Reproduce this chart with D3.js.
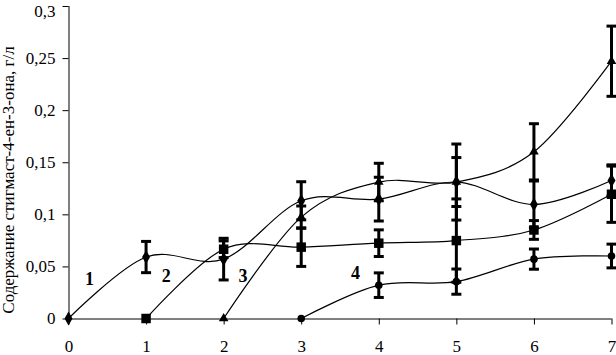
<!DOCTYPE html>
<html><head><meta charset="utf-8">
<script src="https://cdn.jsdelivr.net/npm/d3@7"></script>
<style>body{margin:0;background:#fff}svg{display:block}</style>
</head><body>
<script>
const xTicks = [0,1,2,3,4,5,6,7];
const yTicks = [0,0.05,0.1,0.15,0.2,0.25,0.3];
const yTickLabels = ["0","0,05","0,1","0,15","0,2","0,25","0,3"];
const yTitle = "Содержание стигмаст-4-ен-3-она, г/л";

const s1x = [0,1,2,3,4,5,6,7];
const s1y = [0,0.059,0.057,0.113,0.1146,0.131,0.1095,0.1325];
const s1e = [0,0.015,0.02,0.0183,0.021,0.0235,0.0225,0.015];

const s2x = [1,2,3,4,5,6,7];
const s2y = [0,0.0665,0.0685,0.0723,0.0748,0.085,0.1193];
const s2e = [0,0.008,0.0185,0.0128,0.040,0.009,0.027];

const s3x = [2,3,4,5,6,7];
const s3y = [0,0.0973,0.131,0.131,0.16,0.247];
const s3e = [0,0.0107,0.018,0.0365,0.027,0.0337];

const s4x = [3,4,5,6,7];
const s4y = [0,0.032,0.0354,0.057,0.060];
const s4e = [0,0.0118,0.0121,0.0097,0.0114];

const seriesLabels = ["1","2","3","4"];
const labelPos = [[0.27,0.036],[1.26,0.039],[2.25,0.039],[3.7,0.042]];

const W=616,H=355;
const x = d3.scaleLinear().domain([0,7]).range([68.5,611.5]);
const y = d3.scaleLinear().domain([0,0.3]).range([318.5,6]);

const svg = d3.select("body").append("svg").attr("width",W).attr("height",H);
const font = "Liberation Serif";

const yAxis = svg.append("g").attr("transform",`translate(${x(0)},0)`)
  .call(d3.axisLeft(y).tickValues(yTicks).tickSize(6).tickPadding(7)
    .tickFormat((d,i)=>yTickLabels[i]));
const xAxis = svg.append("g").attr("transform",`translate(0,${y(0)})`)
  .call(d3.axisBottom(x).tickValues(xTicks).tickSize(6).tickPadding(15).tickFormat(d=>String(d)));
[yAxis,xAxis].forEach(a=>{
  a.select(".domain").attr("stroke","#000").attr("stroke-width",1);
  a.selectAll(".tick line").attr("stroke","#000").attr("stroke-width",1);
  a.selectAll("text").attr("font-family",font).attr("font-size",17).attr("fill","#000");
});
yAxis.selectAll(".tick text").filter(d=>d===0.3).attr("dy","0.6em");
xAxis.select(".domain").attr("d",`M${x(0)},0.5H${x(7)}`);
yAxis.select(".domain").attr("d",`M0.5,${y(0.3)}V${y(0)}`);

svg.append("text").attr("transform",`translate(10,180) rotate(-90)`)
  .attr("text-anchor","middle").attr("dominant-baseline","middle")
  .attr("font-family",font).attr("font-size",17).text(yTitle);

const series = [
  {xs:s1x,ys:s1y,es:s1e,sym:d3.symbolDiamond,size:55},
  {xs:s2x,ys:s2y,es:s2e,sym:d3.symbolSquare,size:90},
  {xs:s3x,ys:s3y,es:s3e,sym:d3.symbolTriangle,size:40},
  {xs:s4x,ys:s4y,es:s4e,sym:d3.symbolCircle,size:45},
];
const line = d3.line().x(d=>x(d[0])).y(d=>y(d[1])).curve(d3.curveCatmullRom.alpha(0));

series.forEach(s=>{
  const pts = s.xs.map((v,i)=>[v,s.ys[i],s.es[i]]);
  svg.append("path").attr("d",line(pts)).attr("fill","none").attr("stroke","#000").attr("stroke-width",1.2);
});
series.forEach(s=>{
  const pts = s.xs.map((v,i)=>[v,s.ys[i],s.es[i]]);
  const g = svg.append("g");
  pts.filter(p=>p[2]>0).forEach(p=>{
    const cx = x(p[0]), t=y(p[1]+p[2]), b=y(p[1]-p[2]);
    g.append("line").attr("x1",cx).attr("x2",cx).attr("y1",t).attr("y2",b).attr("stroke","#000").attr("stroke-width",3);
    [t,b].forEach(yy=>g.append("line").attr("x1",cx-5).attr("x2",cx+5).attr("y1",yy).attr("y2",yy).attr("stroke","#000").attr("stroke-width",3));
  });
  g.selectAll("path.m").data(pts).join("path").attr("class","m")
    .attr("transform",p=>`translate(${x(p[0])},${y(p[1])})`)
    .attr("d",d3.symbol().type(s.sym).size(s.size)).attr("fill","#000");
});

svg.selectAll("text.lab").data(seriesLabels).join("text").attr("class","lab")
  .attr("x",(d,i)=>x(labelPos[i][0])).attr("y",(d,i)=>y(labelPos[i][1]))
  .attr("text-anchor","middle").attr("dominant-baseline","middle")
  .attr("font-family",font).attr("font-size",18).attr("font-weight","bold").text(d=>d);
</script>
</body></html>
